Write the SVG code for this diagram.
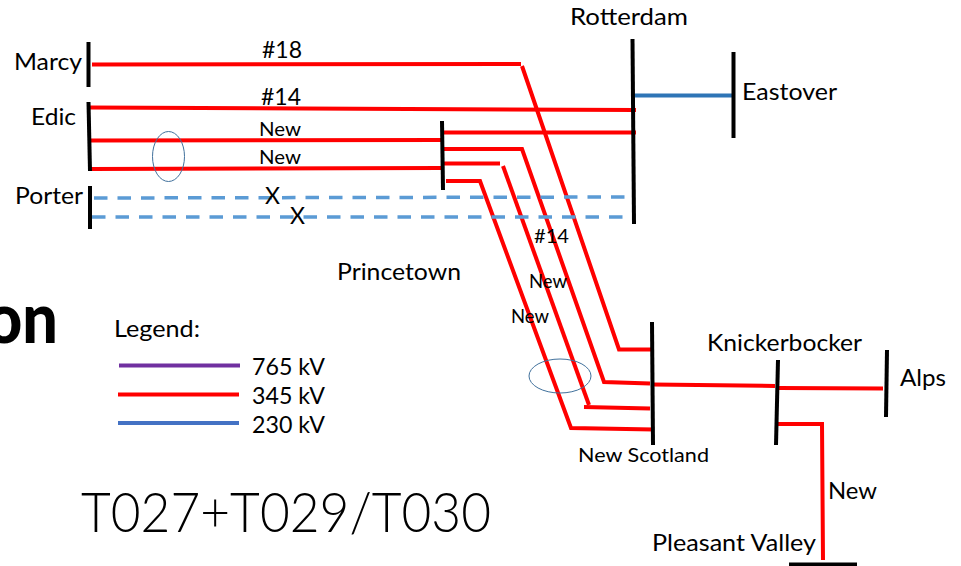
<svg xmlns="http://www.w3.org/2000/svg" width="961" height="566" viewBox="0 0 961 566">
<style>
text{font-family:Lato,"Open Sans","Liberation Sans",sans-serif;fill:#000;font-size:24px}
.s{font-size:20px}
.bus{stroke:#000;stroke-width:4;fill:none}
.r{stroke:#f00;stroke-width:4;fill:none}
.d{stroke:#5b9bd5;stroke-width:3.5;stroke-dasharray:13.5 10;fill:none}
.e{stroke:#41719c;stroke-width:1;fill:none}
</style>
<rect width="961" height="566" fill="#fff"/>
<g id="connectors">
<path class="r" d="M92 64.5L521 64"/>
<path class="r" d="M522 66L619 349.500H652"/>
<path class="r" d="M90 107.500L636 110"/>
<path class="r" d="M90 140.500L441 140"/>
<path class="r" d="M90 169L441 168"/>
<path class="r" d="M443 132.500H636"/>
<path class="r" d="M443 149H522L604 382L650 383.500"/>
<path class="r" d="M443 163.500H500"/>
<path class="r" d="M503 166L589 405"/>
<path class="r" d="M584 407L650 408.500"/>
<path class="r" d="M446 181H480L571 428L654 429.500"/>
<path d="M634 95.500H732" fill="none" stroke="#2e75b6" stroke-width="4"/>
<path class="d" d="M94 198L626 197"/>
<path class="d" d="M92 217L625 217"/>
<path class="r" d="M653 384.500L775 386"/>
<path class="r" d="M779 388L883 388.500"/>
<path class="r" d="M775 424H822L823 560"/>
</g>
<ellipse class="e" cx="168.500" cy="156.500" rx="16" ry="25"/>
<ellipse class="e" cx="560" cy="376" rx="31" ry="17"/>
<g id="marcy"><path class="bus" d="M88.500 42V87"/><text x="14" y="70" textLength="68" lengthAdjust="spacingAndGlyphs">Marcy</text></g>
<g id="edic"><path class="bus" d="M88.500 102L90 171"/><text x="31" y="125" textLength="45" lengthAdjust="spacingAndGlyphs">Edic</text></g>
<g id="porter"><path class="bus" d="M90 186V229"/><text x="15" y="204" textLength="68" lengthAdjust="spacingAndGlyphs">Porter</text></g>
<g id="princetown"><path class="bus" d="M442 121L443 190"/><text x="337" y="280" textLength="124" lengthAdjust="spacingAndGlyphs">Princetown</text></g>
<g id="rotterdam"><path class="bus" d="M632.500 39L634 224"/><text x="570" y="25" textLength="118" lengthAdjust="spacingAndGlyphs">Rotterdam</text></g>
<g id="eastover"><path class="bus" d="M733.500 52V138"/><text x="742" y="100" textLength="95" lengthAdjust="spacingAndGlyphs">Eastover</text></g>
<g id="new-scotland"><path class="bus" d="M652 322L653 445"/><text x="578" y="462" class="s" textLength="131" lengthAdjust="spacingAndGlyphs">New Scotland</text></g>
<g id="knickerbocker"><path class="bus" d="M778 360L776 445"/><text x="707" y="351" textLength="155" lengthAdjust="spacingAndGlyphs">Knickerbocker</text></g>
<g id="alps"><path class="bus" d="M887 350L886 417"/><text x="900" y="386" textLength="46" lengthAdjust="spacingAndGlyphs">Alps</text></g>
<g id="pleasant-valley"><path class="bus" d="M789 564.500H857"/><text x="652" y="551" textLength="164" lengthAdjust="spacingAndGlyphs">Pleasant Valley</text></g>
<g id="labels">
<text x="262" y="58" textLength="40" lengthAdjust="spacingAndGlyphs">#18</text>
<text x="261" y="105" textLength="40" lengthAdjust="spacingAndGlyphs">#14</text>
<text x="259" y="136" class="s" textLength="42" lengthAdjust="spacingAndGlyphs">New</text>
<text x="259" y="164" class="s" textLength="42" lengthAdjust="spacingAndGlyphs">New</text>
<text x="265" y="204" textLength="15" lengthAdjust="spacingAndGlyphs">X</text>
<text x="290" y="224" textLength="15" lengthAdjust="spacingAndGlyphs">X</text>
<text x="534" y="243" class="s" textLength="35" lengthAdjust="spacingAndGlyphs">#14</text>
<text x="529" y="288" class="s" textLength="38" lengthAdjust="spacingAndGlyphs">New</text>
<text x="511" y="323" class="s" textLength="38" lengthAdjust="spacingAndGlyphs">New</text>
<text x="828" y="499" textLength="49" lengthAdjust="spacingAndGlyphs">New</text>
</g>
<g id="legend">
<text x="114" y="337" textLength="86" lengthAdjust="spacingAndGlyphs">Legend:</text>
<path d="M119 365.500H240" fill="none" stroke="#7030a0" stroke-width="4"/>
<path d="M118 394.500H239" fill="none" stroke="#f00" stroke-width="4"/>
<path d="M118 423H239" fill="none" stroke="#4472c4" stroke-width="4"/>
<text x="252" y="375" textLength="73" lengthAdjust="spacingAndGlyphs">765 kV</text>
<text x="252" y="404" textLength="73" lengthAdjust="spacingAndGlyphs">345 kV</text>
<text x="252" y="433" textLength="73" lengthAdjust="spacingAndGlyphs">230 kV</text>
</g>
<text x="58" y="343" text-anchor="end" style="font-size:70px;font-weight:900" textLength="72" lengthAdjust="spacingAndGlyphs">on</text>
<text x="81" y="532" style="font-size:56px;font-weight:300" textLength="410" lengthAdjust="spacingAndGlyphs">T027+T029/T030</text>
</svg>
